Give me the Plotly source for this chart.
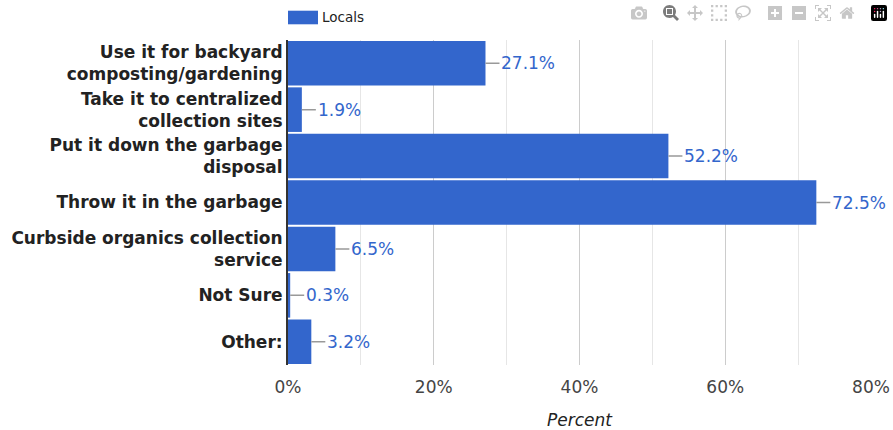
import plotly.graph_objects as go

categories = [
    "Use it for backyard<br>composting/gardening",
    "Take it to centralized<br>collection sites",
    "Put it down the garbage<br>disposal",
    "Throw it in the garbage",
    "Curbside organics collection<br>service",
    "Not Sure",
    "Other:",
]
values = [27.1, 1.9, 52.2, 72.5, 6.5, 0.3, 3.2]
series_name = "Locals"
x_ticks = [0, 20, 40, 60, 80]
x_ticktext = [f"{t}%" for t in x_ticks]

BLUE = "#3366cc"

fig = go.Figure()
fig.add_trace(go.Bar(
    y=categories, x=values, orientation="h", name=series_name,
    marker=dict(color=BLUE, line=dict(width=0)),
    showlegend=False, hoverinfo="x+y",
))

for c, v in zip(categories, values):
    fig.add_annotation(
        x=v, y=c, xref="x", yref="y",
        text=f"{v:.1f}%", showarrow=True, arrowhead=0, arrowwidth=1.5,
        arrowcolor="#999999", ax=14, ay=0, xanchor="left",
        font=dict(family="DejaVu Sans", size=17, color=BLUE),
        standoff=0, startstandoff=0,
    )

# legend drawn manually
PW, PH = 583, 325
fig.add_shape(type="rect", xref="paper", yref="paper",
              x0=0, x1=30 / PW, y0=1 + 15.7 / PH, y1=1 + 29.3 / PH,
              fillcolor=BLUE, line=dict(width=0))
fig.add_annotation(xref="paper", yref="paper", x=32 / PW, y=1 + 23 / PH,
                   text=series_name, showarrow=False, xanchor="left", yanchor="middle",
                   font=dict(family="DejaVu Sans", size=13.5, color="#222222"))

fig.update_layout(
    width=893, height=430,
    margin=dict(l=288, r=22, t=40, b=65, autoexpand=False),
    plot_bgcolor="white", paper_bgcolor="white",
    bargap=0.04,
    font=dict(family="DejaVu Sans"),
    xaxis=dict(
        range=[0, 80], tickvals=x_ticks, ticktext=x_ticktext,
        tickfont=dict(size=17, color="#444444"),
        showgrid=True, gridcolor="#cccccc", gridwidth=1,
        minor=dict(dtick=10, showgrid=True, gridcolor="#e6e6e6"),
        zeroline=False, showline=False, ticks="", ticklabelstandoff=10,
        automargin=False, ticklabeloverflow="allow",
        title=dict(text="<i>Percent</i>", font=dict(size=17, color="#222222"), standoff=18),
    ),
    yaxis=dict(
        autorange="reversed", automargin=False,
        tickfont=dict(size=17, color="#222222", weight="bold"),
        showline=True, linecolor="#333333", linewidth=2,
        ticks="", ticklabelstandoff=0,
    ),
)

fig.write_html("out.html", post_script="document.body.style.margin='0';")
